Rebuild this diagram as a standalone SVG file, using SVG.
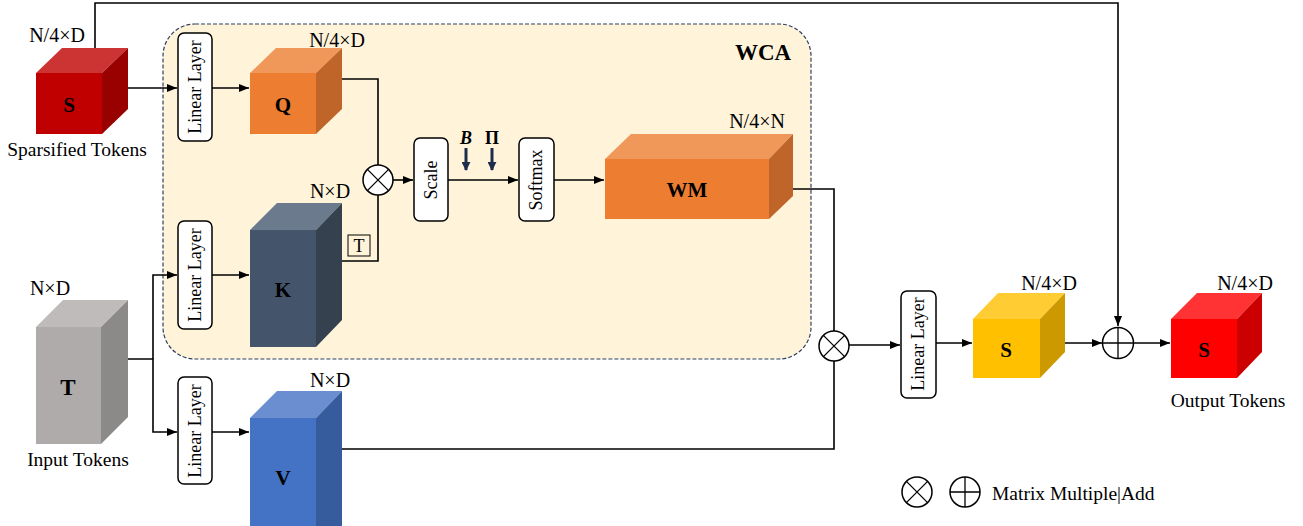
<svg xmlns="http://www.w3.org/2000/svg" width="1303" height="526" viewBox="0 0 1303 526">
<defs>
<marker id="ah" viewBox="0 0 10 10" refX="10" refY="5" markerWidth="10" markerHeight="10" markerUnits="userSpaceOnUse" orient="auto"><path d="M0,1 L10,5 L0,9 Z" fill="#000"/></marker>
<marker id="ahb" viewBox="0 0 10 10" refX="9" refY="5" markerWidth="9" markerHeight="9" markerUnits="userSpaceOnUse" orient="auto"><path d="M0,0 L10,5 L0,10 Z" fill="#1F2D4D"/></marker>
</defs>
<style>
text{font-family:"Liberation Serif","Times New Roman",serif;fill:#000}
.dim{font-size:20px;text-anchor:middle}
.lab{font-size:19.5px}
.cl{font-size:21px;font-weight:bold;text-anchor:middle}
.box{fill:#fff;stroke:#000;stroke-width:1.5}
.bt{font-size:18px;text-anchor:middle}
.ln{fill:none;stroke:#000;stroke-width:1.6}
.op{fill:#fff;stroke:#000;stroke-width:1.5}
</style>
<rect width="1303" height="526" fill="#fff"/>
<g id="wca">
<rect x="163" y="24" width="648" height="335" rx="32" ry="32" fill="#FFF4DA" stroke="#2F4060" stroke-width="1.2" stroke-dasharray="4,2"/>
<text x="763" y="60" style="font-size:23px;font-weight:bold" text-anchor="middle">WCA</text>
</g>
<g id="connectors">
<path class="ln" d="M95,48 V3 H1118 V326" marker-end="url(#ah)"/>
<path class="ln" d="M102,88 H177" marker-end="url(#ah)"/>
<path class="ln" d="M212,88 H249" marker-end="url(#ah)"/>
<path class="ln" d="M342,79 H378 V165"/>
<path class="ln" d="M342,261 H378 V195"/>
<path class="ln" d="M393,180 H413" marker-end="url(#ah)"/>
<path class="ln" d="M448,180 H518" marker-end="url(#ah)"/>
<path class="ln" d="M554,180 H604" marker-end="url(#ah)"/>
<path class="ln" d="M769,189 H834 V331"/>
<path class="ln" d="M342,449 H834 V361"/>
<path class="ln" d="M849,345 H900" marker-end="url(#ah)"/>
<path class="ln" d="M936,343 H972" marker-end="url(#ah)"/>
<path class="ln" d="M1065,343 H1102" marker-end="url(#ah)"/>
<path class="ln" d="M1134,343 H1170" marker-end="url(#ah)"/>
<path class="ln" d="M101,359 H153 V432 H177" marker-end="url(#ah)"/>
<path class="ln" d="M153,359 V275 H177" marker-end="url(#ah)"/>
<path class="ln" d="M212,275 H249" marker-end="url(#ah)"/>
<path class="ln" d="M212,432 H249" marker-end="url(#ah)"/>
<path d="M466,148 V170" stroke="#1F2D4D" stroke-width="3" marker-end="url(#ahb)"/>
<path d="M492,148 V170" stroke="#1F2D4D" stroke-width="3" marker-end="url(#ahb)"/>
</g>
<g id="s-in">
<polygon points="36,73 62,48 128,48 102,73" fill="#CC3333"/>
<polygon points="102,73 128,48 128,109 102,134" fill="#990000"/>
<rect x="36" y="73" width="66" height="61" fill="#C00000"/>
<text class="cl" x="69" y="112">S</text>
<text class="dim" x="57" y="42">N/4×D</text>
<text class="lab" x="77" y="156" text-anchor="middle">Sparsified Tokens</text>
</g>
<g id="t-in">
<polygon points="36,327 63,300 128,300 101,327" fill="#BFBBBA"/>
<polygon points="101,327 128,300 128,417 101,444" fill="#8C8989"/>
<rect x="36" y="327" width="65" height="117" fill="#AFABAB"/>
<text class="cl" x="68" y="395" style="font-size:23px">T</text>
<text class="dim" x="50" y="295">N×D</text>
<text class="lab" x="78" y="466" text-anchor="middle">Input Tokens</text>
</g>
<g id="ll1"><rect class="box" x="178" y="33" width="34" height="108" rx="6"/><text class="bt" transform="translate(201,87) rotate(-90)">Linear Layer</text></g>
<g id="ll2"><rect class="box" x="178" y="221" width="34" height="108" rx="6"/><text class="bt" transform="translate(201,275) rotate(-90)">Linear Layer</text></g>
<g id="ll4"><rect class="box" x="178" y="377" width="34" height="107" rx="6"/><text class="bt" transform="translate(201,431) rotate(-90)">Linear Layer</text></g>
<g id="q">
<polygon points="250,73 276,48 342,48 316,73" fill="#F0985A"/>
<polygon points="316,73 342,48 342,109 316,134" fill="#C0652A"/>
<rect x="250" y="73" width="66" height="61" fill="#ED7D31"/>
<text class="cl" x="283" y="112">Q</text>
<text class="dim" x="337" y="47">N/4×D</text>
</g>
<g id="k">
<polygon points="250,230 277,203 342,203 316,230" fill="#6B7A8D"/>
<polygon points="316,230 342,203 342,320 316,347" fill="#36414F"/>
<rect x="250" y="230" width="66" height="117" fill="#44546A"/>
<text class="cl" x="283" y="297">K</text>
<text class="dim" x="330" y="198">N×D</text>
<rect x="348" y="235" width="22" height="21" fill="none" stroke="#000" stroke-width="1"/>
<text x="359" y="252" text-anchor="middle" style="font-size:18px">T</text>
</g>
<g id="v">
<polygon points="250,418 277,391 342,391 316,418" fill="#6A8ED0"/>
<polygon points="316,418 342,391 342,540 316,540" fill="#365C9E"/>
<rect x="250" y="418" width="66" height="120" fill="#4472C4"/>
<text class="cl" x="283" y="485">V</text>
<text class="dim" x="330" y="387">N×D</text>
</g>
<g id="mul1"><circle class="op" cx="378" cy="180" r="15"/><path d="M367.4,169.4 L388.6,190.6 M388.6,169.4 L367.4,190.6" stroke="#000" stroke-width="1.3"/></g>
<g id="scale"><rect class="box" x="414" y="138" width="34" height="83" rx="6"/><text class="bt" transform="translate(437,180) rotate(-90)">Scale</text></g>
<g id="bpi">
<text x="466" y="144" text-anchor="middle" style="font-size:18px;font-weight:bold;font-style:italic">B</text>
<text x="492" y="144" text-anchor="middle" style="font-size:18px;font-weight:bold">Π</text>
</g>
<g id="softmax"><rect class="box" x="519" y="138" width="35" height="83" rx="6"/><text class="bt" transform="translate(542,180) rotate(-90)">Softmax</text></g>
<g id="wm">
<polygon points="605,159 631,134 793,134 769,159" fill="#F0985A"/>
<polygon points="769,159 793,134 793,196 769,219" fill="#C0652A"/>
<rect x="605" y="159" width="164" height="60" fill="#ED7D31"/>
<text class="cl" x="687" y="197">WM</text>
<text class="dim" x="757" y="128">N/4×N</text>
</g>
<g id="mul2"><circle class="op" cx="834" cy="346" r="15"/><path d="M823.4,335.4 L844.6,356.6 M844.6,335.4 L823.4,356.6" stroke="#000" stroke-width="1.3"/></g>
<g id="ll3"><rect class="box" x="901" y="291" width="35" height="107" rx="6"/><text class="bt" transform="translate(924,344) rotate(-90)">Linear Layer</text></g>
<g id="s-mid">
<polygon points="973,319 998,293 1065,293 1040,319" fill="#FFCD33"/>
<polygon points="1040,319 1065,293 1065,352 1040,378" fill="#CC9A00"/>
<rect x="973" y="319" width="67" height="59" fill="#FFC000"/>
<text class="cl" x="1006" y="357">S</text>
<text class="dim" x="1049" y="290">N/4×D</text>
</g>
<g id="add"><circle class="op" cx="1118" cy="343" r="15.5"/><path d="M1102.5,343 H1133.5 M1118,327.5 V358.5" stroke="#000" stroke-width="1.3"/></g>
<g id="s-out">
<polygon points="1171,319 1197,293 1262,293 1237,319" fill="#FF3333"/>
<polygon points="1237,319 1262,293 1262,352 1237,378" fill="#CC0000"/>
<rect x="1171" y="319" width="66" height="59" fill="#FF0000"/>
<text class="cl" x="1204" y="357">S</text>
<text class="dim" x="1245" y="290">N/4×D</text>
<text class="lab" x="1228" y="407" text-anchor="middle">Output Tokens</text>
</g>
<g id="legend">
<circle class="op" cx="917" cy="492" r="15"/><path d="M906.4,481.4 L927.6,502.6 M927.6,481.4 L906.4,502.6" stroke="#000" stroke-width="1.3"/>
<circle class="op" cx="965" cy="492" r="15"/><path d="M950,492 H980 M965,477 V507" stroke="#000" stroke-width="1.3"/>
<text class="lab" x="992" y="500">Matrix Multiple|Add</text>
</g>
</svg>
